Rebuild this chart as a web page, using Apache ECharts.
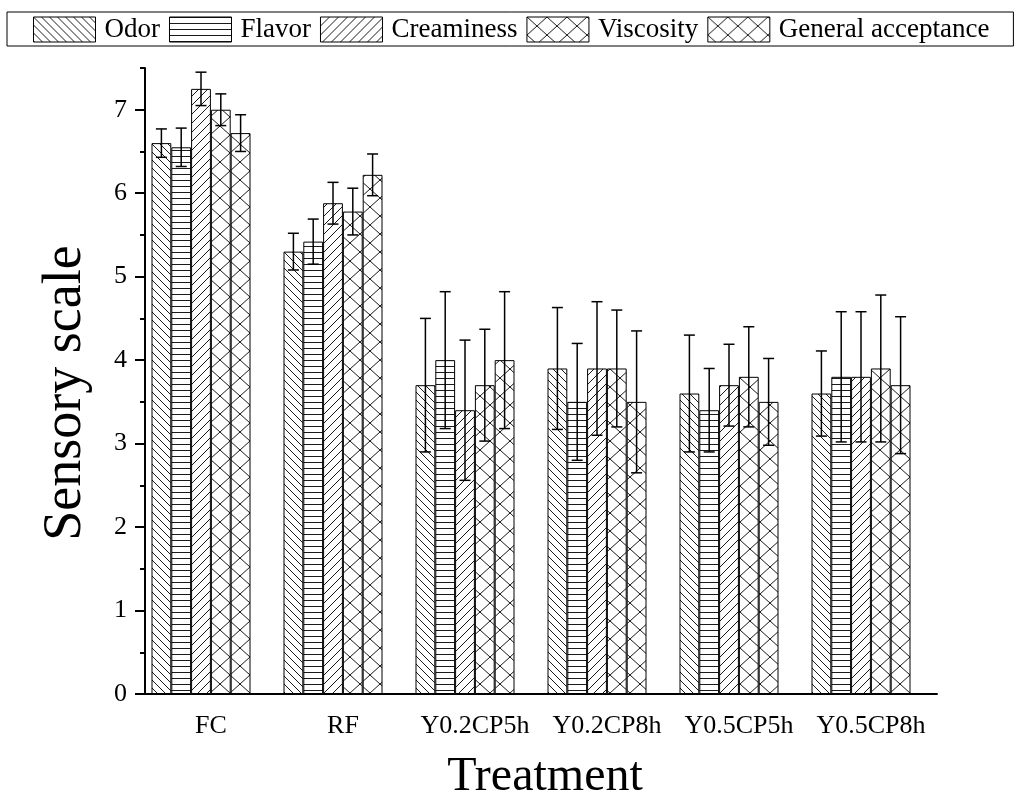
<!DOCTYPE html>
<html>
<head>
<meta charset="utf-8">
<script src="https://cdn.jsdelivr.net/npm/echarts@6/dist/echarts.min.js"></script>
<style>
html,body{margin:0;padding:0;background:#fff;}
#chart{width:1029px;height:793px;}
</style>
</head>
<body>
<div id="chart"></div>
<script>
// ---- data ----
const categories = ['FC', 'RF', 'Y0.2CP5h', 'Y0.2CP8h', 'Y0.5CP5h', 'Y0.5CP8h'];
const seriesNames = ['Odor', 'Flavor', 'Creaminess', 'Viscosity', 'General acceptance'];
const odor = [6.60, 5.30, 3.70, 3.90, 3.60, 3.60];
const odorErr = [0.17, 0.22, 0.80, 0.73, 0.70, 0.51];
const flavor = [6.55, 5.42, 4.00, 3.50, 3.40, 3.80];
const flavorErr = [0.23, 0.27, 0.82, 0.70, 0.50, 0.78];
const creaminess = [7.25, 5.88, 3.40, 3.90, 3.70, 3.80];
const creaminessErr = [0.20, 0.25, 0.84, 0.80, 0.49, 0.78];
const viscosity = [7.00, 5.78, 3.70, 3.90, 3.80, 3.90];
const viscosityErr = [0.19, 0.28, 0.67, 0.70, 0.60, 0.88];
const acceptance = [6.72, 6.22, 4.00, 3.50, 3.50, 3.70];
const acceptanceErr = [0.22, 0.25, 0.82, 0.85, 0.52, 0.82];
const yTickLabels = [0, 1, 2, 3, 4, 5, 6, 7];
const yMinorTicks = [0.5, 1.5, 2.5, 3.5, 4.5, 5.5, 6.5, 7.5];

const values = [odor, flavor, creaminess, viscosity, acceptance];
const errors = [odorErr, flavorErr, creaminessErr, viscosityErr, acceptanceErr];

// ---- hatch patterns ----
function makePattern(type) {
  const c = document.createElement('canvas');
  let w = 8, h = 8;
  if (type === 'horiz') { w = 6; h = 6; }
  if (type === 'fwd') { w = 9; h = 9; }
  if (type === 'cross') { w = 20; h = 18; }
  c.width = w; c.height = h;
  const g = c.getContext('2d');
  g.fillStyle = '#fff';
  g.fillRect(0, 0, w, h);
  g.strokeStyle = '#1a1a1a';
  g.lineWidth = 1;
  g.beginPath();
  if (type === 'horiz') {
    g.moveTo(0, 0.5); g.lineTo(w, 0.5);
  } else if (type === 'back') {
    for (const k of [-w, 0, w]) { g.moveTo(k, 0); g.lineTo(k + w, h); }
  } else if (type === 'fwd') {
    for (const k of [-w, 0, w]) { g.moveTo(k, h); g.lineTo(k + w, 0); }
  } else if (type === 'cross') {
    for (const k of [-w, 0, w]) {
      g.moveTo(k, 0); g.lineTo(k + w, h);
      g.moveTo(k, h); g.lineTo(k + w, 0);
    }
  }
  g.stroke();
  return { image: c, repeat: 'repeat' };
}
const patterns = [makePattern('back'), makePattern('horiz'), makePattern('fwd'), makePattern('cross'), makePattern('cross')];

const FONT = 'Liberation Serif';
const CAT_GAP = 0.25;
const N = seriesNames.length;

const barSeries = seriesNames.map((name, i) => ({
  name: name,
  type: 'bar',
  xAxisIndex: 0,
  yAxisIndex: 0,
  barCategoryGap: '25%',
  barGap: '0%',
  data: values[i],
  itemStyle: { color: patterns[i], borderColor: '#000', borderWidth: 1 },
  emphasis: { disabled: true },
  z: 2
}));

const errSeries = seriesNames.map((name, i) => ({
  name: name + ' error',
  type: 'custom',
  xAxisIndex: 0,
  yAxisIndex: 0,
  z: 5,
  silent: true,
  data: values[i].map((v, j) => [j, v, errors[i][j]]),
  encode: { x: 0, y: 1 },
  renderItem: function (params, api) {
    const idx = api.value(0), v = api.value(1), e = api.value(2);
    const center = api.coord([idx, v]);
    const band = api.size([1, 0])[0];
    const bw = band * (1 - CAT_GAP) / N;
    const x = center[0] - bw * N / 2 + (i + 0.5) * bw;
    const top = api.coord([idx, v + e])[1];
    const bot = api.coord([idx, v - e])[1];
    const cap = 5.5;
    const st = { stroke: '#000', lineWidth: 1.5 };
    return {
      type: 'group',
      children: [
        { type: 'line', shape: { x1: x, y1: top, x2: x, y2: bot }, style: st },
        { type: 'line', shape: { x1: x - cap, y1: top, x2: x + cap, y2: top }, style: st },
        { type: 'line', shape: { x1: x - cap, y1: bot, x2: x + cap, y2: bot }, style: st }
      ]
    };
  }
}));

const chart = echarts.init(document.getElementById('chart'), null, { renderer: 'canvas' });
chart.setOption({
  animation: false,
  backgroundColor: '#fff',
  legend: {
    data: seriesNames,
    left: 7,
    top: 12,
    icon: 'rect',
    itemWidth: 62,
    itemHeight: 25,
    itemGap: 9,
    padding: [4, 24, 3, 26],
    borderColor: '#000',
    borderWidth: 1,
    selectedMode: false,
    itemStyle: { borderColor: '#000', borderWidth: 1 },
    textStyle: { fontFamily: FONT, fontSize: 27, color: '#000', padding: [0, 0, 0, 4] }
  },
  grid: [
    { left: 135, width: 792, top: 68, bottom: 99, containLabel: false },
    { left: 145, width: 792, top: 68, bottom: 99, containLabel: false }
  ],
  xAxis: [
    { type: 'category', gridIndex: 0, data: categories, show: false },
    {
      type: 'category', gridIndex: 1, data: categories, position: 'bottom',
      axisLine: { lineStyle: { color: '#000', width: 2 } },
      axisTick: { alignWithLabel: true, length: 11, lineStyle: { color: '#000', width: 2 } },
      axisLabel: { fontFamily: FONT, fontSize: 26, color: '#000', margin: 19, interval: 0 }
    },
    {
      type: 'category', gridIndex: 1, data: categories, position: 'bottom',
      axisLine: { show: false },
      axisTick: { alignWithLabel: false, length: 5, lineStyle: { color: '#000', width: 2 } },
      axisLabel: { show: false }
    }
  ],
  yAxis: [
    { type: 'value', gridIndex: 0, min: 0, max: 7.5, show: false, splitLine: { show: false } },
    {
      type: 'value', gridIndex: 1, min: 0, max: 7.5, position: 'left',
      splitLine: { show: false },
      axisLine: { show: true, lineStyle: { color: '#000', width: 2 } },
      axisTick: { show: true, length: 10, customValues: yTickLabels, lineStyle: { color: '#000', width: 2 } },
      axisLabel: { customValues: yTickLabels, fontFamily: FONT, fontSize: 26, color: '#000', margin: 18 }
    },
    {
      type: 'value', gridIndex: 1, min: 0, max: 7.5, position: 'left', offset: 0,
      splitLine: { show: false },
      axisLine: { show: false },
      axisTick: { show: true, length: 5, customValues: yMinorTicks, lineStyle: { color: '#000', width: 2 } },
      axisLabel: { show: false }
    }
  ],
  graphic: [
    {
      type: 'text', x: 66, y: 393, rotation: Math.PI / 2,
      style: { text: 'Sensory scale', fontFamily: FONT, fontSize: 54, fill: '#000', textAlign: 'center', textVerticalAlign: 'middle' }
    },
    {
      type: 'text', x: 545, y: 777,
      style: { text: 'Treatment', fontFamily: FONT, fontSize: 48, fill: '#000', textAlign: 'center', textVerticalAlign: 'middle' }
    }
  ],
  series: barSeries.concat(errSeries)
});
</script>
</body>
</html>
